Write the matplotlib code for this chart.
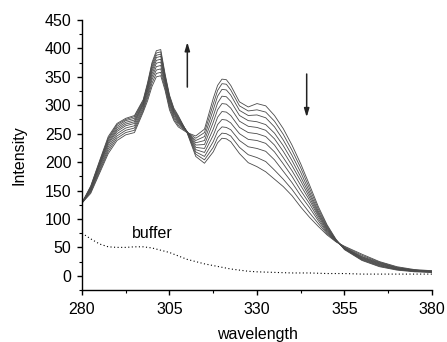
import matplotlib
matplotlib.use("Agg")
import matplotlib.pyplot as plt
from matplotlib.ticker import MultipleLocator, FixedLocator

plt.rcParams['font.family'] = ['Liberation Sans', 'DejaVu Sans']

# wavelength grid (nm), denser around the two main bands
wavelength = [280, 282.5, 285, 287.5, 290, 292.5, 295, 297.5, 298.75, 300, 301.25, 302.5, 303.75,
              305, 306.25, 307.5, 310, 312.5, 315, 317.5, 318.75, 320, 321.25, 322.5, 325, 327.5,
              330, 332.5, 335, 337.5, 340, 342.5, 345, 347.5, 350, 352.5, 355, 360, 365, 370,
              375, 380]

# titration spectra, first to last addition
spec_0 = [128, 145, 180, 215, 238, 248, 252, 288, 308, 333, 350, 352, 326, 292, 273, 262, 252, 246,
          258, 312, 335, 346, 345, 335, 306, 297, 303, 299, 282, 259, 230, 197, 160, 122, 90, 65,
          46, 27, 16, 10, 7, 6]
spec_1 = [128, 147, 183, 219, 242, 252, 256, 291, 313, 339, 356, 358, 330, 296, 276, 265, 253, 242,
          252, 302, 326, 338, 337, 327, 299, 290, 292, 288, 272, 249, 221, 190, 154, 118, 88, 64,
          47, 28, 17, 11, 8, 6]
spec_2 = [129, 149, 186, 223, 246, 256, 260, 294, 317, 345, 362, 364, 334, 300, 279, 268, 253, 238,
          245, 292, 316, 328, 327, 318, 291, 282, 283, 278, 262, 239, 212, 182, 148, 114, 86, 63,
          47, 29, 18, 11, 8, 7]
spec_3 = [128, 150, 189, 227, 250, 260, 264, 297, 321, 350, 368, 370, 338, 303, 282, 270, 254, 234,
          238, 281, 304, 316, 315, 307, 282, 273, 271, 266, 251, 229, 203, 174, 143, 111, 84, 63,
          48, 30, 19, 12, 8, 7]
spec_4 = [129, 152, 192, 231, 254, 264, 268, 300, 325, 355, 374, 376, 341, 306, 285, 272, 254, 230,
          231, 270, 292, 303, 302, 295, 272, 263, 261, 256, 241, 219, 194, 167, 138, 108, 82, 62,
          48, 31, 20, 12, 9, 7]
spec_5 = [128, 153, 194, 234, 257, 267, 271, 302, 328, 360, 379, 381, 344, 309, 287, 274, 254, 226,
          224, 258, 279, 289, 288, 282, 261, 252, 250, 245, 230, 208, 185, 159, 133, 105, 80, 62,
          49, 32, 21, 13, 9, 8]
spec_6 = [129, 154, 196, 237, 260, 270, 274, 304, 331, 364, 384, 386, 347, 312, 289, 276, 254, 222,
          217, 247, 266, 275, 274, 269, 250, 240, 238, 233, 218, 197, 175, 150, 127, 101, 78, 61,
          49, 33, 22, 14, 10, 8]
spec_7 = [128, 155, 198, 240, 263, 273, 277, 306, 334, 368, 388, 390, 350, 314, 291, 278, 253, 218,
          210, 236, 254, 262, 261, 257, 238, 227, 224, 219, 204, 184, 164, 141, 120, 97, 76, 61,
          50, 34, 23, 14, 10, 8]
spec_8 = [129, 157, 200, 242, 266, 275, 280, 308, 337, 372, 392, 394, 352, 316, 293, 280, 253, 214,
          204, 226, 243, 251, 250, 246, 226, 213, 208, 201, 186, 170, 152, 131, 111, 92, 74, 61,
          51, 36, 24, 15, 10, 8]
spec_9 = [128, 158, 202, 245, 268, 277, 282, 310, 340, 375, 396, 398, 355, 318, 295, 282, 252, 210,
          198, 218, 234, 242, 241, 236, 215, 199, 192, 183, 170, 157, 141, 121, 103, 87, 72, 60,
          52, 38, 25, 16, 11, 9]

spectra = [spec_0, spec_1, spec_2, spec_3, spec_4, spec_5, spec_6, spec_7, spec_8, spec_9]

# buffer only
buffer_wl = [280, 282.5, 285, 287.5, 290, 292.5, 295, 297.5, 300, 302.5, 305, 307.5, 310, 312.5, 315,
             317.5, 320, 322.5, 325, 327.5, 330, 335, 340, 345, 350, 355, 360, 365, 370, 375, 380]
buffer_int = [75, 65, 56, 51, 50, 50, 51, 51, 49, 45, 41, 35, 29, 25, 21, 18, 15, 12, 10, 8, 7, 6, 5,
              5, 4, 4, 3, 3, 3, 3, 3]

x_major = [280, 305, 330, 355, 380]
x_minor = [292.5, 317.5, 342.5, 367.5]


def main():
    fig = plt.figure(figsize=(4.47, 3.42), dpi=100)
    ax = fig.add_axes([0.1834, 0.152, 0.783, 0.7895])

    for spec in spectra:
        ax.plot(wavelength, spec, '-', color='#4a4a4a', linewidth=0.6)
    ax.plot(buffer_wl, buffer_int, color='black', linewidth=0.8, linestyle=(0, (1, 2.2)))

    ax.text(300, 74, 'buffer', fontsize=11.5, ha='center', va='center')

    # arrows showing direction of change
    arrow = dict(arrowstyle='-|>,head_length=0.5,head_width=0.15', color='#222222', lw=1.1,
                 shrinkA=0, shrinkB=0)
    ax.annotate('', xy=(310.1, 411), xytext=(310.1, 332), arrowprops=arrow)
    ax.annotate('', xy=(344.2, 279), xytext=(344.2, 355), arrowprops=arrow)

    ax.set_xlim(280, 380)
    ax.set_ylim(-25, 450)
    ax.xaxis.set_major_locator(FixedLocator(x_major))
    ax.xaxis.set_minor_locator(FixedLocator(x_minor))
    ax.set_yticks(range(0, 451, 50))
    ax.yaxis.set_minor_locator(MultipleLocator(25))

    for side in ('top', 'right'):
        ax.spines[side].set_visible(False)
    for side in ('left', 'bottom'):
        ax.spines[side].set_linewidth(1.0)
    ax.tick_params(which='major', direction='out', length=3.5, width=1.0, labelsize=11.5)
    ax.tick_params(which='minor', direction='out', length=2, width=0.8)
    ax.tick_params(axis='x', which='major', pad=5)
    ax.tick_params(axis='y', which='major', pad=4)

    ax.set_xlabel('wavelength', fontsize=11.5, labelpad=7)
    ax.set_ylabel('Intensity', fontsize=11.5, labelpad=13)

    fig.savefig('out.png', dpi=100)


if __name__ == '__main__':
    main()
